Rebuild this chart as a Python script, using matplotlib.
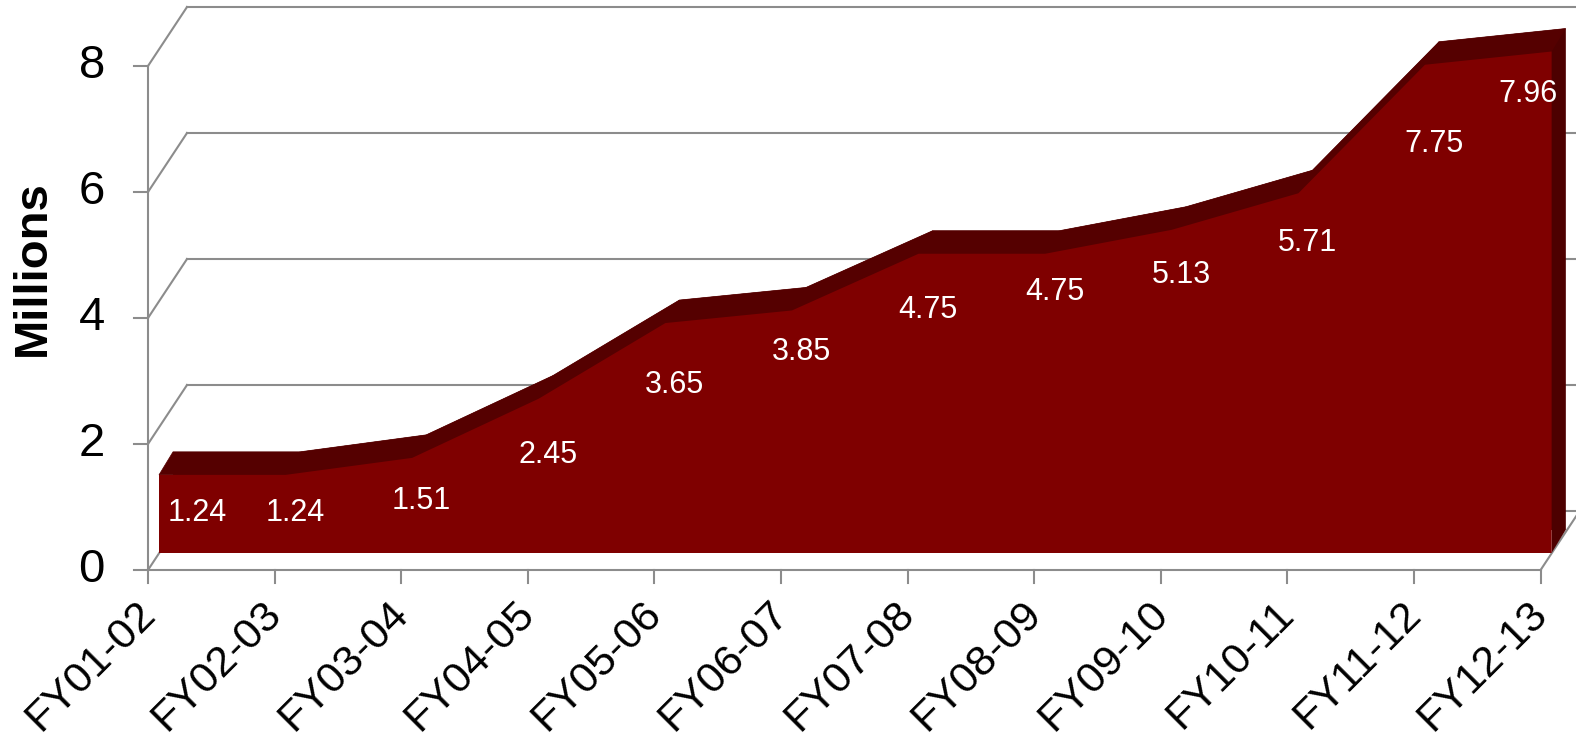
import numpy as np
import matplotlib
matplotlib.use("Agg")
import matplotlib.pyplot as plt
from matplotlib.patches import Polygon

plt.rcParams['font.family'] = ['Liberation Sans', 'DejaVu Sans']

# data
categories = ['FY01-02', 'FY02-03', 'FY03-04', 'FY04-05', 'FY05-06', 'FY06-07',
              'FY07-08', 'FY08-09', 'FY09-10', 'FY10-11', 'FY11-12', 'FY12-13']
values = [1.24, 1.24, 1.51, 2.45, 3.65, 3.85, 4.75, 4.75, 5.13, 5.71, 7.75, 7.96]
yticks = [0, 2, 4, 6, 8]

# layout in pixels (figure is 1576x741)
W, H = 1576, 741
X0, DX = 148, 126.6      # front x axis origin, px per category
Y0, DY = 570, 63         # front y=0 (px from top), px per unit

def off(px, py):
    # screen pixel offset -> data offset
    return px / DX, -py / DY

wall = off(39, -59)      # full depth of the box
front = off(11, -17)     # front face of the area series
depth = off(14, -23)     # thickness of the area series

grid_col = '#8c8c8c'
red = '#7f0000'
dark = '#550000'

fig = plt.figure(figsize=(W / 100, H / 100), dpi=100)
ax = fig.add_axes([0, 0, 1, 1])
ax.set_xlim(-X0 / DX, (W - X0) / DX)
ax.set_ylim(-(H - Y0) / DY, Y0 / DY)
ax.axis('off')

n = len(values)
xs = np.arange(n)
last = n - 1

# walls / gridlines
for t in yticks:
    ax.plot([0, wall[0]], [t, t + wall[1]], color=grid_col, lw=1.5, zorder=1)
    ax.plot([wall[0], last + wall[0]], [t + wall[1], t + wall[1]], color=grid_col, lw=1.5, zorder=1)
ax.plot([last, last + wall[0]], [0, wall[1]], color=grid_col, lw=1.5, zorder=1)

# area series (extruded)
fx, fy = front
top = [(x + fx, v + fy) for x, v in zip(xs, values)]
poly_front = top + [(last + fx, fy), (fx, fy)]
poly_back = [(x + depth[0], y + depth[1]) for x, y in poly_front]
ax.add_patch(Polygon(poly_back, closed=True, fc=dark, ec='none', zorder=2))
for i in range(n - 1):
    a, b = top[i], top[i + 1]
    quad = [a, b, (b[0] + depth[0], b[1] + depth[1]), (a[0] + depth[0], a[1] + depth[1])]
    ax.add_patch(Polygon(quad, closed=True, fc=dark, ec=dark, lw=0.5, zorder=2))
a, b = top[-1], (last + fx, fy)
quad = [a, b, (b[0] + depth[0], b[1] + depth[1]), (a[0] + depth[0], a[1] + depth[1])]
ax.add_patch(Polygon(quad, closed=True, fc='#4d0000', ec='none', zorder=2))
ax.add_patch(Polygon(poly_front, closed=True, fc=red, ec='none', zorder=3))

# data labels
for i, v in enumerate(values):
    rise = v - values[i - 1] if i > 0 else 0
    lx = min(max(i + 0.16, 0.39), last - 0.1)
    ly = v + fy - (38 + 20 * rise) / DY
    ax.text(lx, ly, f'{v:.2f}', color='white', fontsize=22, ha='center', va='center', zorder=4)

# front axes
ax.plot([0, 0], [0, yticks[-1]], color=grid_col, lw=1.5, zorder=5)
ax.plot([0, last], [0, 0], color=grid_col, lw=1.5, zorder=5)
for t in yticks:
    ax.plot([-14 / DX, 0], [t, t], color=grid_col, lw=1.5, zorder=5)
    ax.text(-43 / DX, t, str(t), fontsize=34, ha='right', va='center')
for i, c in enumerate(categories):
    ax.plot([i, i], [0, -13 / DY], color=grid_col, lw=1.5, zorder=5)
    ax.text(i + 1 / DX, -38 / DY, c, fontsize=31, rotation=45, ha='right', va='center',
            rotation_mode='anchor')

fig.text(33 / W, 1 - 268 / H, 'Millions', fontsize=34, fontweight='bold', rotation=90,
         ha='center', va='center')

fig.savefig('out.png', dpi=100)
